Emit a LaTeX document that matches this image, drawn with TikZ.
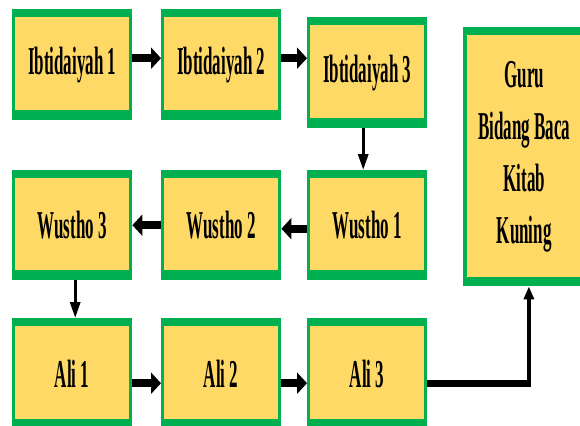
\documentclass[tikz,border=0pt]{standalone}
\usepackage{fontspec}
\newfontfamily\lblfont[FakeStretch=0.43]{Liberation Serif}
\usetikzlibrary{arrows.meta}
\definecolor{grn}{HTML}{00B050}
\definecolor{yel}{HTML}{FFD966}
\tikzset{
  stagebox/.style={draw=none, fill=grn, inner sep=0pt, anchor=north west,
    minimum width=120pt, minimum height=111pt, text=black,
    font=\lblfont\bfseries\fontsize{39.5}{52}\selectfont, align=center,
    path picture={\fill[yel] ([xshift=3pt,yshift=10pt]path picture bounding box.south west)
      rectangle ([xshift=-3pt,yshift=-8pt]path picture bounding box.north east);}},
  fatarrow/.style={line width=8pt, -{Triangle[length=10pt,width=21pt]}},
  thinarrow/.style={line width=3pt, -{Triangle[length=16pt,width=10pt]}},
}
\begin{document}
\begin{tikzpicture}[x=1pt,y=-1pt]
\useasboundingbox (0,0) rectangle (580,425);
\clip (0,0) rectangle (580,425);
\node[stagebox] (i1) at (12,9) {Ibtidaiyah 1};
\node[stagebox] (i2) at (161,9) {Ibtidaiyah 2};
\node[stagebox] (i3) at (307,17) {Ibtidaiyah 3};
\node[stagebox, minimum height=110pt] (w1) at (307,170) {Wustho 1};
\node[stagebox, minimum height=110pt] (w2) at (161,170) {Wustho 2};
\node[stagebox, minimum height=110pt] (w3) at (12,170) {Wustho 3};
\node[stagebox] (a1) at (12,318) {Ali 1};
\node[stagebox] (a2) at (161,318) {Ali 2};
\node[stagebox] (a3) at (307,318) {Ali 3};
\node[stagebox, minimum width=128pt, minimum height=259pt,
  path picture={\fill[yel] ([xshift=4pt,yshift=9pt]path picture bounding box.south west)
      rectangle ([xshift=-4pt,yshift=-8pt]path picture bounding box.north east);}]
  (guru) at (463,27) {\hspace*{-6pt}Guru\\\hspace*{-6pt}Bidang Baca\\\hspace*{-6pt}Kitab\\\hspace*{-6pt}Kuning};
% top row
\draw[fatarrow] ([yshift=6.5pt]i1.east) -- ([yshift=6.5pt]i2.west);
\coordinate (s2) at ([yshift=6.5pt]i2.east);
\draw[fatarrow] (s2) -- (s2 -| i3.west);
\coordinate (s3) at ([xshift=-4pt]i3.south);
\draw[thinarrow] (s3) -- (s3 |- w1.north);
% middle row
\draw[fatarrow] ([yshift=-3.5pt]w1.west) -- ([yshift=-3.5pt]w2.east);
\draw[fatarrow] (w2.west) -- (w3.east);
\coordinate (s4) at ([xshift=3pt]w3.south);
\draw[thinarrow] (s4) -- (s4 |- a1.north);
% bottom row
\draw[fatarrow] ([yshift=-9.5pt]a1.east) -- ([yshift=-9.5pt]a2.west);
\draw[fatarrow] ([yshift=-9.5pt]a2.east) -- ([yshift=-9.5pt]a3.west);
\coordinate (s5) at ([yshift=-10pt]a3.east);
\coordinate (bend) at ([xshift=101.5pt]s5);
\draw[line width=7pt] (s5) -- ([xshift=2pt]bend);
\draw[line width=3.5pt, -{Triangle[length=13pt,width=10pt]}] ([yshift=-3.5pt]bend) -- (bend |- guru.south);
\end{tikzpicture}
\end{document}
